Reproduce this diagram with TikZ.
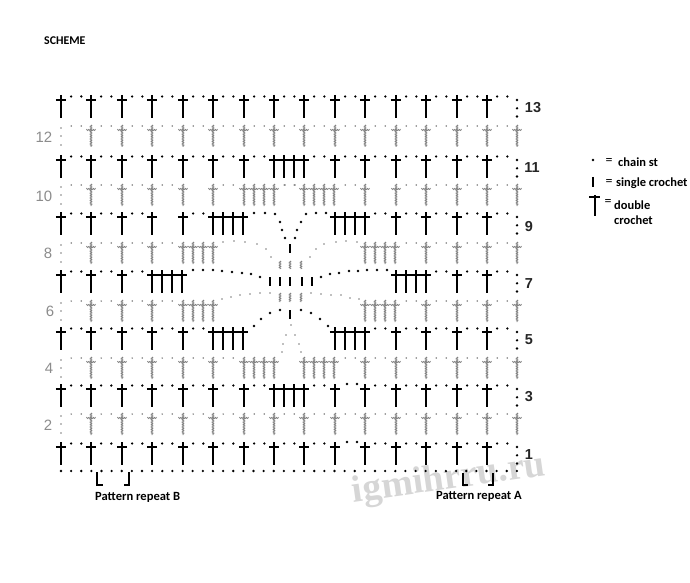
\documentclass[tikz,border=0pt]{standalone}
\usepackage{fontspec}
\setmainfont{Carlito}
\newfontfamily\numf{Liberation Sans}
\newfontfamily\wmf{Liberation Serif}
\usetikzlibrary{decorations.pathmorphing}
\definecolor{faint}{gray}{0.5}
\definecolor{evennum}{gray}{0.55}
\definecolor{wmark}{gray}{0.84}
\tikzset{
  bstem/.style={line width=2.2bp,black},
  bbar/.style={line width=1.8bp,black},
  gstem/.style={line width=.7pt,faint,decorate,decoration={zigzag,amplitude=.8pt,segment length=1.7pt}},
  gbar/.style={line width=.6pt,faint,decorate,decoration={zigzag,amplitude=.6pt,segment length=1.7pt}},
  lab/.style={font=\fontsize{12.6}{14}\selectfont\bfseries,inner sep=0pt},
  oddnum/.style={font=\numf\bfseries\fontsize{14.5}{16}\selectfont,inner sep=0pt,text=black!85},
  evnum/.style={font=\numf\fontsize{15}{16}\selectfont,inner sep=0pt,text=evennum},
  legt/.style={font=\fontsize{12.5}{14}\selectfont\bfseries,inner sep=0pt,anchor=west},
  legeq/.style={font=\fontsize{14}{14}\selectfont,inner sep=0pt},
}
\newcommand\BCross[2]{\draw[bstem] (#1,#2) -- (#1,#2+23);\draw[bbar] (#1-5.2,#2+5) -- (#1+5.2,#2+5);}
\newcommand\GCross[2]{\draw[gstem] (#1,#2) -- (#1,#2+22);\draw[gbar] (#1-4.7,#2+5) -- (#1+4.7,#2+5);}
\newcommand\BDot[2]{\fill[black] (#1,#2) circle[radius=1.3];}
\newcommand\GDot[2]{\fill[faint] (#1,#2) circle[radius=.85];}
\pgfmathdeclarefunction{rowtop}{1}{\pgfmathparse{{442,413,384,357,327,300,270,242,212,184,155,125,95}[#1-1]}}
\newcommand\Grid[2]{\pgfmathsetmacro\xx{round(61+30.43*#1)}\pgfmathsetmacro\tp{rowtop(#2)}}
% rows: row number, single crosses, gaps holding two chain stitches
\newcommand\BRow[3]{%
  \foreach \i in {#2}{\Grid{\i}{#1}\BCross{\xx}{\tp}}
  \foreach \i in {#3}{\Grid{\i}{#1}\BDot{\xx+10.15}{\tp+1.5}\BDot{\xx+20.3}{\tp+1.5}}
  \Grid{0}{#1}\BDot{517}{\tp+5}\BDot{517}{\tp+13.3}\BDot{517}{\tp+21.5}}
\newcommand\GRow[3]{%
  \foreach \i in {#2}{\Grid{\i}{#1}\GCross{\xx}{\tp}}
  \foreach \i in {#3}{\Grid{\i}{#1}\GDot{\xx+10.15}{\tp+1}\GDot{\xx+20.3}{\tp+1}}
  \Grid{0}{#1}\GDot{61}{\tp+3}\GDot{61}{\tp+11}\GDot{61}{\tp+20}}
% four-stitch clusters spanning grid cells
\newcommand\BClu[2]{\Grid{#2}{#1}\foreach \k in {0,1,2,3}{\pgfmathsetmacro\cx{round(\xx+10.14*\k)}\BCross{\cx}{\tp}}}
\newcommand\GClu[2]{\Grid{#2}{#1}\foreach \k in {0,1,2,3}{\pgfmathsetmacro\cx{round(\xx+10.14*\k)}\GCross{\cx}{\tp}}}
\begin{document}
\begin{tikzpicture}[x=1bp,y=-1bp]
\useasboundingbox (0,0) rectangle (690,583);
\fill[white] (0,0) rectangle (690,583);
% watermark
\node[rotate=8,text=wmark,inner sep=0pt] (wm) at (449,480) {\wmf\bfseries\fontsize{38}{39}\selectfont igmihrru.ru};
\BRow{13}{0,...,14}{0,...,14}
\GRow{12}{1,...,15}{0,...,14}
\BRow{11}{0,...,6,9,10,...,14}{0,...,6,8,9,...,14}
\BClu{11}{7}
\GRow{10}{1,...,5,10,11,...,15}{0,1,2,3,5,7,9,11,12,13,14}
\GClu{10}{6}\GClu{10}{8}
\BRow{9}{0,1,2,3,4,11,12,13,14}{0,1,2,4,10,11,12,13,14}
\BClu{9}{5}\BClu{9}{9}
\GRow{8}{1,2,3,12,13,14,15}{0,1,2,3,11,12,13,14}
\GClu{8}{4}\GClu{8}{10}
\BRow{7}{0,1,2,13,14}{0,1,2,12,13,14}
\BClu{7}{3}\BClu{7}{11}
\GRow{6}{1,2,3,12,13,14,15}{0,1,2,3,11,12,13,14}
\GClu{6}{4}\GClu{6}{10}
\BRow{5}{0,1,2,3,4,11,12,13,14}{0,1,2,3,4,10,11,12,13,14}
\BClu{5}{5}\BClu{5}{9}
\GRow{4}{1,...,5,10,11,...,15}{0,1,2,3,4,5,9,10,11,12,13,14}
\GClu{4}{6}\GClu{4}{8}
\BRow{3}{0,...,6,9,10,...,14}{0,...,6,8,10,11,...,14}
\BClu{3}{7}
\GRow{2}{1,...,15}{0,...,14}
\BRow{1}{0,...,14}{0,...,8,10,11,...,14}
% raised chains
\foreach \p in {(347,384),(357,384),(347,442),(357,442)}{\fill[black] \p circle[radius=1.3];}
% foundation chain
\foreach \k in {0,...,45}{\pgfmathsetmacro\xx{61+10.13*\k}\BDot{\xx}{471}}
% centre motif: chains
\foreach \p in {(275,214),(280,222),(282,230),(285,238),(295,238),(297,230),(301,222),(306,214),
  (193,270),(203,270),(213,270),(222,271),(232,272),(242,273),(251,274),(260,277),
  (321,277),(330,274),(339,273),(349,271),(358,271),(367,270),(377,270),(387,270),
  (254,326),(261,319),(270,313),(280,310),(301,310),(311,313),(320,319),(328,326),
  (254,213),(265,213),(316,213),(326,213)}{\fill[black] \p circle[radius=1.3];}
\foreach \p in {(223,242),(234,241),(245,242),(257,244),(266,249),(271,257),
  (310,257),(316,249),(324,244),(336,242),(346,241),(357,242),
  (222,299),(231,297),(240,295),(250,294),(260,293),(270,293),
  (311,293),(321,294),(331,295),(341,295),(350,298),(359,299),
  (285,185),(295,185),
  (291,325),(286,335),(295,335),(283,344),(299,344),(282,352),(301,352)}{\fill[faint] \p circle[radius=.85];}
% centre motif: single stitches
\draw[bstem] (290,244) -- (290,253);
\draw[bstem] (290,310) -- (290,319);
\foreach \x in {270,280,290,302,312}{\draw[bstem] (\x,277) -- (\x,286);}
\foreach \x in {280,290,301}{
  \draw[gstem] (\x,261) -- (\x,269);
  \draw[gstem] (\x,293) -- (\x,302);}
% row numbers
\node[oddnum] (n13) at (533,108) {13};
\node[oddnum] (n11) at (532,168) {11};
\node[oddnum] (n9) at (529,227) {9};
\node[oddnum] (n7) at (529,284) {7};
\node[oddnum] (n5) at (529,340) {5};
\node[oddnum] (n3) at (529,397) {3};
\node[oddnum] (n1) at (529,455) {1};
\node[evnum] (n12) at (44,137) {12};
\node[evnum] (n10) at (44,196) {10};
\node[evnum] (n8) at (48,253) {8};
\node[evnum] (n6) at (50,311) {6};
\node[evnum] (n4) at (49,368) {4};
\node[evnum] (n2) at (48,425) {2};
% brackets
\draw[line width=1.1pt] (97,472) -- (97,485) -- (103,485);
\draw[line width=1.1pt] (129,472) -- (129,485) -- (124,485);
\draw[line width=1.1pt] (463,473) -- (463,485) -- (468,485);
\draw[line width=1.1pt] (493,473) -- (493,485) -- (488,485);
% texts
\node[lab,anchor=west,font=\fontsize{11.9}{14}\selectfont\bfseries] (title) at (44,41) {SCHEME};
\node[lab,anchor=west] (repb) at (95,497) {Pattern repeat B};
\node[lab,anchor=west] (repa) at (436,496) {Pattern repeat A};
% legend
\fill[black] (593,160) circle[radius=1.3];
\draw[line width=2.2pt] (593,177) -- (593,187);
\draw[line width=1.6pt] (595,195) -- (595,216);
\draw[line width=1.4pt] (589,197) -- (600,197);
\node[legeq] (e1) at (609,162) {=};
\node[legeq] (e2) at (609,183) {=};
\node[legeq] (e3) at (608,203) {=};
\node[legt] (l1) at (618,162) {chain st};
\node[legt] (l2) at (616,183) {single crochet};
\node[legt] (l3) at (614,205) {double};
\node[legt] (l4) at (614,220) {crochet};
\end{tikzpicture}
\end{document}
